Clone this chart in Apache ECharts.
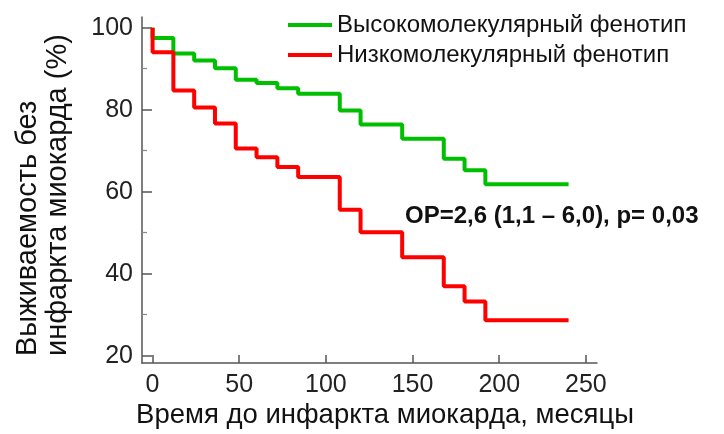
<!DOCTYPE html>
<html lang="ru">
<head>
    <meta charset="UTF-8">
    <title>Kaplan-Meier</title>
    <script type="text/javascript" src="https://cdn.jsdelivr.net/npm/echarts@6/dist/echarts.min.js"></script>
    <style>
        html, body { margin: 0; padding: 0; background: #fff; }
    </style>
</head>
<body>
<div id="main" style="width: 724px;height: 434px;"></div>

<script type="text/javascript">

    // время событий, месяцы
    var times = [0, 12, 24, 36, 48, 60, 72, 84, 108, 120, 144, 168, 180, 192];
    var endTime = 240;
    // выживаемость после каждого события, %
    var highSurv = [97.5, 93.7, 92.0, 90.1, 87.3, 86.5, 85.2, 83.9, 79.8, 76.4, 72.9, 68.0, 65.2, 61.8];
    var lowSurv = [94.0, 84.7, 80.5, 76.6, 70.5, 68.4, 66.0, 63.6, 55.6, 50.1, 44.0, 36.9, 33.2, 28.6];
    var seriesNames = ['Высокомолекулярный фенотип', 'Низкомолекулярный фенотип'];
    var xTicks = [0, 50, 100, 150, 200, 250];
    var yTicks = [20, 40, 60, 80, 100];
    var yMinorTicks = [30, 50, 70, 90];

    var font = 'Liberation Sans, Arial, sans-serif';

    function kmPoints(surv) {
        var pts = [[0, 100]];
        for (var i = 0; i < times.length; i++) {
            pts.push([times[i], surv[i]]);
        }
        pts.push([endTime, surv[surv.length - 1]]);
        return pts;
    }

    var chart = echarts.init(document.getElementById('main'));

    var axisLine = { show: true, onZero: false, lineStyle: { color: '#555', width: 1.5 } };

    var option = {
        animation: false,
        backgroundColor: '#fff',
        grid: { left: 142, right: 127, top: 17, bottom: 71 },
        legend: {
            orient: 'vertical',
            left: 283,
            top: 8,
            itemWidth: 44,
            itemHeight: 4,
            itemGap: 6,
            icon: 'rect',
            textStyle: { fontFamily: font, fontSize: 24, color: '#111' },
            data: seriesNames
        },
        xAxis: {
            type: 'value',
            min: -6.1,
            max: 256.4,
            axisLine: axisLine,
            axisTick: { show: true, inside: true, length: 8, customValues: xTicks, lineStyle: { color: '#555', width: 1.5 } },
            axisLabel: { customValues: xTicks, fontFamily: font, fontSize: 25, color: '#222', margin: 10 },
            splitLine: { show: false }
        },
        yAxis: [{
            type: 'value',
            min: 18.2,
            max: 102.6,
            axisLine: axisLine,
            axisTick: { show: true, inside: true, length: 10, customValues: yTicks, lineStyle: { color: '#555', width: 1.5 } },
            axisLabel: { customValues: yTicks, fontFamily: font, fontSize: 25, color: '#222', margin: 9 },
            splitLine: { show: false }
        }, {
            type: 'value',
            position: 'left',
            min: 18.2,
            max: 102.6,
            axisLine: { show: false, onZero: false },
            axisTick: { show: true, inside: true, length: 5, customValues: yMinorTicks, lineStyle: { color: '#888', width: 1.2 } },
            axisLabel: { show: false },
            splitLine: { show: false }
        }],
        graphic: [{
            type: 'text',
            x: 43,
            y: 356,
            rotation: Math.PI / 2,
            style: {
                text: 'Выживаемость без\nинфаркта миокарда (%)',
                font: '29px ' + font,
                fill: '#111',
                align: 'left',
                verticalAlign: 'middle',
                lineHeight: 30
            }
        }, {
            type: 'text',
            x: 385,
            y: 415,
            style: {
                text: 'Время до инфаркта миокарда, месяцы',
                font: '27.5px ' + font,
                fill: '#111',
                align: 'center',
                verticalAlign: 'middle'
            }
        }, {
            type: 'text',
            x: 405,
            y: 216,
            style: {
                text: 'ОР=2,6 (1,1 – 6,0), p= 0,03',
                font: 'bold 24px ' + font,
                fill: '#111',
                align: 'left',
                verticalAlign: 'middle'
            }
        }],
        series: [{
            name: seriesNames[0],
            type: 'line',
            step: 'end',
            showSymbol: false,
            color: '#00bf00',
            lineStyle: { width: 4, color: '#00bf00' },
            data: kmPoints(highSurv)
        }, {
            name: seriesNames[1],
            type: 'line',
            step: 'end',
            showSymbol: false,
            color: '#ff0000',
            lineStyle: { width: 4, color: '#ff0000' },
            data: kmPoints(lowSurv)
        }]
    };

    chart.setOption(option);
</script>
</body>
</html>
